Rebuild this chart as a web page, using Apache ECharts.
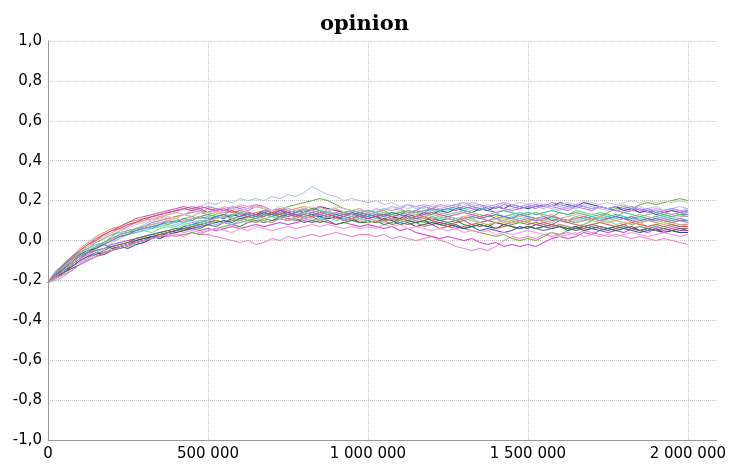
<!DOCTYPE html>
<html>
<head>
<meta charset="utf-8">
<script src="https://cdn.jsdelivr.net/npm/echarts@6/dist/echarts.min.js"></script>
<style>html,body{margin:0;padding:0;background:#fff}#c{width:729px;height:464px}</style>
</head>
<body>
<div id="c"></div>
<script>
// x positions: sample every 25 000 steps, 0 .. 2 000 000
const xStep = 25000;
const xTicks = [0,500000,1000000,1500000,2000000];
const yTicks = [-1,-0.8,-0.6,-0.4,-0.2,0,0.2,0.4,0.6,0.8,1];

const s1 = [-0.21,-0.17,-0.14,-0.10,-0.08,-0.05,-0.04,-0.01,0.01,0.03, 0.05,0.06,0.08,0.10,0.11,0.13,0.14,0.16,0.15,0.17, 0.19,0.18,0.20,0.19,0.21,0.20,0.21,0.20,0.22,0.21, 0.23,0.22,0.24,0.27,0.25,0.23,0.22,0.20,0.21,0.20, 0.19,0.20,0.18,0.19,0.17,0.18,0.16,0.17,0.15,0.16, 0.15,0.17,0.16,0.15,0.17,0.16,0.14,0.15,0.16,0.17, 0.16,0.18,0.17,0.16,0.15,0.17,0.16,0.18,0.17,0.16, 0.15,0.17,0.16,0.15,0.14,0.16,0.17,0.15,0.16,0.17, 0.16];
const s2 = [-0.21,-0.18,-0.16,-0.13,-0.11,-0.09,-0.07,-0.06,-0.04,-0.03, -0.02,-0.01,0.00,0.01,0.02,0.02,0.03,0.02,0.04,0.03, 0.03,0.02,0.01,0.00,-0.01,0.00,-0.02,-0.01,0.01,0.00, 0.02,0.01,0.02,0.03,0.02,0.03,0.04,0.03,0.02,0.03, 0.03,0.02,0.03,0.01,0.02,0.01,0.00,0.01,0.02,0.00, -0.01,-0.03,-0.04,-0.05,-0.04,-0.05,-0.03,0.00,0.02,0.01, 0.02,0.01,0.03,0.02,0.03,0.04,0.03,0.05,0.04,0.03, 0.02,0.03,0.02,0.01,0.02,0.01,0.00,0.01,0.00,-0.01, -0.02];
const s3 = [-0.21,-0.18,-0.15,-0.12,-0.09,-0.07,-0.05,-0.04,-0.02,-0.01, 0.00,0.01,0.02,0.03,0.04,0.05,0.04,0.05,0.06,0.05, 0.06,0.05,0.06,0.07,0.06,0.07,0.08,0.07,0.08,0.09, 0.08,0.09,0.10,0.09,0.10,0.09,0.08,0.09,0.08,0.07, 0.08,0.07,0.06,0.07,0.05,0.06,0.04,0.03,0.02,0.01, 0.02,0.01,0.00,0.01,-0.01,-0.02,-0.01,-0.03,-0.02,-0.03, -0.02,-0.03,-0.01,0.01,0.02,0.01,0.02,0.04,0.03,0.05, 0.04,0.05,0.04,0.06,0.05,0.04,0.06,0.05,0.06,0.05, 0.05];
const s4 = [-0.21,-0.17,-0.13,-0.11,-0.08,-0.06,-0.05,-0.04,-0.03,-0.02, -0.01,0.00,0.01,0.02,0.01,0.03,0.02,0.03,0.04,0.03, 0.05,0.06,0.07,0.08,0.09,0.10,0.11,0.12,0.14,0.15, 0.17,0.18,0.19,0.20,0.21,0.20,0.18,0.16,0.15,0.14, 0.13,0.12,0.11,0.12,0.10,0.11,0.10,0.09,0.10,0.08, 0.09,0.07,0.06,0.05,0.04,0.03,0.02,0.03,0.01,0.00, 0.01,0.00,0.02,0.04,0.03,0.05,0.07,0.08,0.10,0.12, 0.14,0.16,0.17,0.16,0.18,0.19,0.18,0.19,0.20,0.21, 0.20];
const s5 = [-0.21,-0.18,-0.15,-0.13,-0.10,-0.08,-0.06,-0.07,-0.05,-0.03, -0.04,-0.02,-0.01,0.01,0.02,0.04,0.05,0.07,0.08,0.09, 0.10,0.12,0.11,0.13,0.12,0.14,0.13,0.15,0.14,0.13, 0.15,0.14,0.16,0.15,0.17,0.16,0.15,0.14,0.13,0.14, 0.13,0.12,0.13,0.12,0.11,0.13,0.12,0.14,0.13,0.15, 0.14,0.16,0.15,0.14,0.16,0.15,0.17,0.16,0.18,0.17, 0.16,0.17,0.18,0.17,0.19,0.18,0.17,0.19,0.18,0.17, 0.16,0.17,0.15,0.16,0.14,0.15,0.13,0.14,0.15,0.14, 0.15];
const s6 = [-0.21,-0.19,-0.16,-0.14,-0.12,-0.10,-0.08,-0.06,-0.05,-0.03, -0.02,0.00,0.01,0.02,0.03,0.04,0.05,0.06,0.07,0.08, 0.09,0.10,0.09,0.11,0.10,0.12,0.11,0.13,0.12,0.14, 0.13,0.12,0.14,0.13,0.12,0.11,0.12,0.10,0.11,0.09, 0.10,0.09,0.11,0.10,0.08,0.09,0.07,0.08,0.09,0.08, 0.07,0.08,0.06,0.07,0.08,0.07,0.06,0.08,0.07,0.06, 0.07,0.06,0.07,0.08,0.07,0.06,0.07,0.05,0.06,0.07, 0.06,0.05,0.06,0.07,0.05,0.06,0.05,0.04,0.05,0.04, 0.04];
const s7 = [-0.21,-0.17,-0.14,-0.11,-0.08,-0.06,-0.03,-0.01,0.01,0.03, 0.04,0.06,0.07,0.09,0.10,0.11,0.12,0.13,0.14,0.15, 0.14,0.16,0.15,0.17,0.16,0.15,0.17,0.16,0.14,0.15, 0.16,0.15,0.14,0.16,0.15,0.13,0.14,0.13,0.12,0.14, 0.13,0.14,0.12,0.13,0.14,0.13,0.15,0.14,0.16,0.15, 0.16,0.15,0.17,0.16,0.15,0.17,0.16,0.18,0.17,0.16, 0.17,0.18,0.17,0.19,0.18,0.17,0.18,0.17,0.16,0.17, 0.16,0.15,0.16,0.17,0.15,0.16,0.14,0.15,0.16,0.15, 0.14];
const s8 = [-0.21,-0.16,-0.12,-0.08,-0.04,-0.01,0.02,0.04,0.06,0.07, 0.09,0.10,0.11,0.10,0.12,0.11,0.12,0.13,0.12,0.14, 0.13,0.14,0.13,0.15,0.14,0.13,0.14,0.15,0.14,0.16, 0.15,0.16,0.17,0.16,0.17,0.15,0.16,0.14,0.15,0.16, 0.14,0.13,0.14,0.12,0.13,0.11,0.12,0.11,0.12,0.10, 0.11,0.10,0.12,0.11,0.12,0.10,0.11,0.09,0.10,0.09, 0.10,0.11,0.09,0.10,0.11,0.10,0.12,0.11,0.10,0.12, 0.11,0.10,0.11,0.09,0.10,0.11,0.09,0.10,0.09,0.10, 0.10];
const s9 = [-0.21,-0.16,-0.13,-0.09,-0.07,-0.05,-0.03,-0.01,0.01,0.03, 0.04,0.05,0.07,0.06,0.08,0.09,0.10,0.09,0.11,0.12, 0.13,0.12,0.13,0.12,0.14,0.13,0.12,0.14,0.13,0.12, 0.14,0.15,0.14,0.16,0.15,0.14,0.13,0.14,0.13,0.12, 0.13,0.12,0.13,0.14,0.13,0.15,0.14,0.15,0.16,0.15, 0.16,0.17,0.16,0.17,0.16,0.15,0.14,0.15,0.14,0.13, 0.14,0.13,0.14,0.15,0.14,0.13,0.14,0.13,0.12,0.13, 0.12,0.13,0.12,0.11,0.12,0.11,0.12,0.13,0.12,0.13, 0.13];
const s10 = [-0.21,-0.19,-0.17,-0.15,-0.12,-0.10,-0.08,-0.07,-0.05,-0.04, -0.03,-0.01,0.00,0.01,0.03,0.04,0.05,0.06,0.07,0.08, 0.09,0.10,0.09,0.10,0.11,0.10,0.09,0.11,0.10,0.12, 0.11,0.10,0.11,0.12,0.10,0.11,0.12,0.11,0.10,0.11, 0.10,0.09,0.10,0.08,0.09,0.08,0.09,0.07,0.08,0.06, 0.07,0.06,0.07,0.08,0.07,0.08,0.06,0.07,0.08,0.09, 0.08,0.09,0.08,0.07,0.08,0.07,0.06,0.07,0.08,0.07, 0.06,0.07,0.08,0.06,0.07,0.06,0.05,0.06,0.07,0.06, 0.06];
const s11 = [-0.21,-0.17,-0.13,-0.10,-0.07,-0.05,-0.03,-0.02,0.00,0.02, 0.03,0.04,0.05,0.04,0.06,0.07,0.06,0.08,0.07,0.09, 0.08,0.10,0.09,0.10,0.11,0.10,0.12,0.11,0.12,0.11, 0.13,0.12,0.14,0.13,0.11,0.12,0.13,0.12,0.14,0.13, 0.12,0.13,0.14,0.13,0.15,0.14,0.13,0.12,0.13,0.12, 0.11,0.10,0.11,0.12,0.11,0.10,0.12,0.11,0.10,0.09, 0.10,0.11,0.10,0.12,0.11,0.10,0.12,0.11,0.10,0.09, 0.10,0.08,0.09,0.08,0.09,0.07,0.08,0.09,0.08,0.07, 0.08];
const s12 = [-0.21,-0.17,-0.15,-0.12,-0.09,-0.06,-0.04,-0.01,0.02,0.05, 0.07,0.09,0.10,0.12,0.13,0.14,0.15,0.16,0.17,0.16, 0.17,0.16,0.15,0.16,0.17,0.16,0.18,0.17,0.15,0.16, 0.14,0.15,0.16,0.15,0.14,0.15,0.13,0.14,0.15,0.14, 0.15,0.14,0.16,0.15,0.16,0.14,0.15,0.17,0.16,0.18, 0.17,0.18,0.19,0.17,0.18,0.16,0.17,0.16,0.15,0.16, 0.17,0.16,0.18,0.17,0.16,0.15,0.17,0.16,0.15,0.17, 0.16,0.15,0.14,0.15,0.16,0.14,0.15,0.14,0.13,0.14, 0.13];
const s13 = [-0.21,-0.18,-0.14,-0.11,-0.07,-0.05,-0.04,-0.02,-0.04,-0.03, -0.02,-0.01,0.00,0.02,0.01,0.03,0.04,0.05,0.06,0.07, 0.08,0.09,0.10,0.09,0.11,0.12,0.13,0.14,0.13,0.15, 0.14,0.13,0.12,0.13,0.12,0.11,0.12,0.10,0.11,0.12, 0.11,0.12,0.10,0.11,0.09,0.10,0.09,0.10,0.08,0.09, 0.08,0.07,0.06,0.07,0.05,0.06,0.05,0.04,0.05,0.07, 0.06,0.08,0.07,0.06,0.07,0.05,0.06,0.07,0.06,0.05, 0.06,0.07,0.06,0.05,0.04,0.05,0.06,0.04,0.05,0.04, 0.04];
const s14 = [-0.21,-0.16,-0.13,-0.09,-0.06,-0.03,0.00,0.02,0.04,0.06, 0.08,0.09,0.10,0.11,0.12,0.13,0.14,0.13,0.15,0.14, 0.16,0.15,0.17,0.16,0.18,0.17,0.18,0.16,0.15,0.14, 0.15,0.14,0.16,0.15,0.14,0.15,0.13,0.14,0.13,0.12, 0.14,0.13,0.12,0.13,0.12,0.14,0.13,0.12,0.14,0.13, 0.12,0.11,0.12,0.13,0.12,0.13,0.14,0.12,0.13,0.12, 0.13,0.14,0.12,0.13,0.11,0.12,0.13,0.12,0.11,0.12, 0.13,0.12,0.11,0.12,0.13,0.12,0.11,0.12,0.11,0.12, 0.12];
const s15 = [-0.21,-0.15,-0.12,-0.08,-0.06,-0.04,-0.02,-0.01,0.01,0.02, 0.03,0.04,0.05,0.06,0.07,0.08,0.07,0.09,0.08,0.10, 0.10,0.11,0.12,0.11,0.10,0.12,0.11,0.13,0.12,0.11, 0.10,0.12,0.11,0.10,0.11,0.12,0.10,0.11,0.12,0.11, 0.10,0.11,0.10,0.11,0.09,0.10,0.11,0.10,0.12,0.11, 0.12,0.11,0.10,0.11,0.09,0.10,0.11,0.10,0.12,0.11, 0.12,0.11,0.10,0.11,0.10,0.09,0.10,0.11,0.12,0.11, 0.12,0.11,0.12,0.10,0.11,0.10,0.11,0.12,0.11,0.10, 0.10];
const s16 = [-0.21,-0.19,-0.17,-0.15,-0.12,-0.10,-0.08,-0.06,-0.05,-0.03, -0.02,-0.01,0.00,0.01,0.02,0.03,0.02,0.04,0.05,0.04, 0.05,0.06,0.05,0.04,0.06,0.05,0.07,0.06,0.05,0.06, 0.07,0.06,0.07,0.08,0.07,0.08,0.07,0.06,0.07,0.06, 0.07,0.06,0.08,0.07,0.08,0.06,0.07,0.06,0.05,0.06, 0.05,0.06,0.04,0.05,0.04,0.05,0.03,0.04,0.03,0.04, 0.05,0.04,0.03,0.04,0.02,0.03,0.04,0.02,0.03,0.02, 0.03,0.02,0.03,0.04,0.03,0.02,0.03,0.04,0.03,0.02, 0.03];
const s17 = [-0.21,-0.16,-0.12,-0.09,-0.05,-0.02,0.01,0.03,0.05,0.06, 0.08,0.09,0.11,0.12,0.13,0.14,0.15,0.16,0.15,0.16, 0.14,0.15,0.14,0.15,0.13,0.12,0.13,0.12,0.14,0.13, 0.12,0.13,0.11,0.12,0.13,0.12,0.11,0.12,0.11,0.13, 0.11,0.12,0.10,0.11,0.10,0.12,0.11,0.12,0.10,0.09, 0.08,0.09,0.10,0.08,0.09,0.10,0.09,0.08,0.09,0.10, 0.09,0.08,0.09,0.08,0.10,0.09,0.08,0.07,0.08,0.09, 0.08,0.07,0.08,0.09,0.08,0.07,0.08,0.07,0.08,0.07, 0.07];
const s18 = [-0.21,-0.16,-0.11,-0.08,-0.05,-0.03,-0.01,0.01,0.03,0.05, 0.06,0.08,0.09,0.10,0.11,0.12,0.11,0.13,0.12,0.14, 0.14,0.15,0.14,0.16,0.15,0.16,0.17,0.16,0.15,0.17, 0.16,0.15,0.16,0.17,0.16,0.15,0.17,0.16,0.15,0.16, 0.14,0.15,0.16,0.15,0.17,0.16,0.17,0.16,0.18,0.17, 0.18,0.17,0.19,0.18,0.17,0.18,0.17,0.19,0.18,0.19, 0.18,0.19,0.18,0.17,0.18,0.19,0.18,0.20,0.19,0.18, 0.19,0.18,0.19,0.20,0.19,0.20,0.19,0.20,0.19,0.20, 0.19];
const s19 = [-0.21,-0.18,-0.16,-0.13,-0.10,-0.08,-0.07,-0.05,-0.03,-0.02, -0.01,0.01,0.02,0.03,0.04,0.05,0.06,0.05,0.07,0.06, 0.08,0.07,0.09,0.08,0.07,0.09,0.10,0.09,0.10,0.11, 0.10,0.11,0.09,0.10,0.09,0.10,0.08,0.09,0.10,0.09, 0.09,0.10,0.08,0.09,0.11,0.10,0.09,0.10,0.11,0.10, 0.09,0.10,0.08,0.07,0.08,0.07,0.09,0.08,0.07,0.06, 0.07,0.06,0.05,0.06,0.07,0.06,0.05,0.06,0.07,0.06, 0.05,0.06,0.07,0.06,0.05,0.06,0.07,0.06,0.05,0.06, 0.05];
const s20 = [-0.21,-0.20,-0.18,-0.15,-0.12,-0.09,-0.06,-0.04,-0.01,0.01, 0.03,0.05,0.06,0.07,0.08,0.09,0.08,0.10,0.09,0.10, 0.09,0.08,0.09,0.08,0.10,0.09,0.11,0.10,0.09,0.11, 0.10,0.12,0.11,0.12,0.13,0.12,0.14,0.13,0.14,0.15, 0.14,0.16,0.15,0.17,0.16,0.18,0.17,0.18,0.17,0.16, 0.17,0.18,0.17,0.19,0.18,0.17,0.18,0.19,0.18,0.17, 0.18,0.17,0.16,0.18,0.17,0.16,0.18,0.17,0.16,0.17, 0.16,0.17,0.18,0.16,0.17,0.15,0.16,0.15,0.16,0.15, 0.16];
const s21 = [-0.21,-0.17,-0.13,-0.10,-0.06,-0.04,-0.01,0.01,0.03,0.04, 0.05,0.06,0.07,0.08,0.09,0.08,0.10,0.11,0.12,0.11, 0.12,0.13,0.12,0.13,0.14,0.13,0.12,0.13,0.12,0.14, 0.13,0.14,0.13,0.14,0.15,0.14,0.13,0.14,0.15,0.14, 0.15,0.14,0.15,0.13,0.14,0.15,0.14,0.13,0.15,0.14, 0.13,0.14,0.15,0.14,0.13,0.12,0.13,0.12,0.13,0.14, 0.13,0.14,0.13,0.12,0.14,0.13,0.15,0.14,0.13,0.14, 0.13,0.12,0.14,0.13,0.12,0.13,0.14,0.13,0.12,0.13, 0.12];
const s22 = [-0.21,-0.16,-0.12,-0.08,-0.05,-0.02,0.00,0.03,0.05,0.07, 0.09,0.11,0.12,0.13,0.14,0.15,0.16,0.17,0.16,0.17, 0.16,0.15,0.16,0.14,0.15,0.14,0.13,0.14,0.13,0.15, 0.14,0.12,0.13,0.12,0.14,0.13,0.12,0.13,0.14,0.12, 0.11,0.12,0.13,0.12,0.13,0.11,0.12,0.13,0.14,0.13, 0.12,0.13,0.14,0.13,0.12,0.13,0.11,0.12,0.11,0.10, 0.11,0.10,0.11,0.12,0.11,0.10,0.11,0.12,0.11,0.10, 0.11,0.12,0.11,0.10,0.09,0.10,0.11,0.10,0.09,0.10, 0.09];
const s23 = [-0.21,-0.17,-0.14,-0.11,-0.08,-0.06,-0.04,-0.02,0.00,0.02, 0.03,0.05,0.06,0.07,0.08,0.10,0.09,0.11,0.10,0.12, 0.11,0.12,0.13,0.11,0.12,0.13,0.12,0.14,0.13,0.12, 0.13,0.14,0.15,0.14,0.13,0.12,0.13,0.12,0.14,0.13, 0.12,0.13,0.12,0.14,0.13,0.12,0.11,0.12,0.11,0.10, 0.11,0.10,0.11,0.12,0.11,0.12,0.13,0.12,0.11,0.13, 0.12,0.11,0.12,0.10,0.11,0.10,0.09,0.10,0.11,0.10, 0.11,0.12,0.11,0.12,0.10,0.11,0.10,0.11,0.10,0.11, 0.10];
const s24 = [-0.21,-0.18,-0.15,-0.11,-0.08,-0.05,-0.03,-0.01,0.01,0.03, 0.04,0.06,0.07,0.08,0.09,0.10,0.11,0.10,0.11,0.12, 0.10,0.11,0.12,0.11,0.10,0.11,0.09,0.10,0.09,0.11, 0.10,0.11,0.12,0.11,0.10,0.12,0.11,0.10,0.11,0.10, 0.09,0.10,0.09,0.11,0.10,0.11,0.10,0.12,0.11,0.12, 0.11,0.10,0.11,0.10,0.09,0.08,0.09,0.10,0.09,0.10, 0.09,0.11,0.10,0.09,0.11,0.10,0.09,0.10,0.11,0.10, 0.09,0.10,0.09,0.08,0.09,0.10,0.09,0.08,0.09,0.08, 0.08];

const seriesList = [s1,s2,s3,s4,s5,s6,s7,s8,s9,s10,s11,s12,s13,s14,s15,s16,s17,s18,s19,s20,s21,s22,s23,s24];
const colors = ['#a8bff0','#f07ac8','#cc33cc','#66aa33','#223399','#333333','#9966ee','#ee8844','#22aa99','#996655','#77dd55','#bb66dd','#3344bb','#ee9999','#44cccc','#ff88dd','#cc4466','#c8c8c8','#337744','#bb99ff','#55cc66','#dd44aa','#5577cc','#ccaa77'];

const chart = echarts.init(document.getElementById('c'), null, {renderer:'canvas'});
const fmtX = v => String(v).replace(/\B(?=(\d{3})+(?!\d))/g, ' ');
const fmtY = v => v.toFixed(1).replace('.', ',');
chart.setOption({
  animation: false,
  backgroundColor: '#fff',
  title: {text: 'opinion', left: 'center', top: 9, textStyle: {fontFamily: 'DejaVu Serif', fontWeight: 'bold', fontSize: 21, color: '#000'}},
  grid: {left: 48, right: 11, top: 41, bottom: 24},
  xAxis: {
    type: 'value', min: 0, max: 2090000, interval: 500000,
    axisLine: {show: true, onZero: false, lineStyle: {color: '#999', width: 1}},
    axisTick: {show: false},
    axisLabel: {color: '#000', fontFamily: 'DejaVu Sans', fontSize: 15, margin: 7, showMaxLabel: false,
      formatter: v => xTicks.includes(v) ? fmtX(v) : ''},
    splitLine: {show: true, showMinLine: false, showMaxLine: false, lineStyle: {color: '#c4c4c4', type: [1, 1], width: 1}}
  },
  yAxis: {
    type: 'value', min: -1, max: 1, interval: 0.2,
    axisLine: {show: true, onZero: false, lineStyle: {color: '#999', width: 1}},
    axisTick: {show: false},
    axisLabel: {color: '#000', fontFamily: 'DejaVu Sans', fontSize: 15, margin: 6,
      formatter: v => fmtY(yTicks.reduce((a, b) => Math.abs(b - v) < Math.abs(a - v) ? b : a))},
    splitLine: {show: true, showMinLine: false, lineStyle: {color: '#c4c4c4', type: [1, 1], width: 1}}
  },
  series: seriesList.map((s, i) => ({
    type: 'line', showSymbol: false, symbol: 'none',
    data: s.map((y, j) => [j * xStep, y]),
    lineStyle: {width: 1, color: colors[i], opacity: 1},
    itemStyle: {color: colors[i]}
  }))
});
</script>
</body>
</html>
